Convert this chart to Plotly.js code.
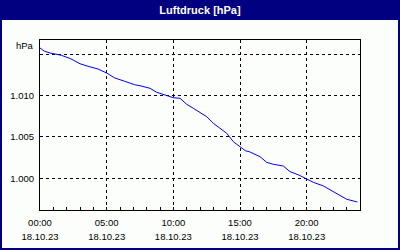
<!DOCTYPE html>
<html>
<head>
<meta charset="utf-8">
<script src="https://cdn.plot.ly/plotly-3.0.1.min.js"></script>
<style>html,body{margin:0;padding:0;background:#000080;}#chart{width:400px;height:250px;}</style>
</head>
<body>
<div id="chart"></div>
<script>
// Hours since 18.10.23 00:00
const hours = [0, 0.35, 0.75, 1.6, 2.3, 3.0, 3.6, 4.35, 5.0, 5.6, 6.35, 7.1, 7.5, 8.25, 8.75, 9.5, 10.0, 10.5, 11.0, 11.5, 12.0, 12.5, 13.0, 13.5, 14.0, 14.5, 15.0, 15.4, 15.7, 16.5, 17.0, 17.5, 18.25, 18.75, 19.4, 20.0, 20.5, 21.25, 22.0, 22.5, 23.0, 23.8];
// Air pressure in hPa
const pressure = [1015.76, 1015.36, 1015.16, 1014.88, 1014.47, 1013.86, 1013.55, 1013.22, 1012.74, 1012.14, 1011.74, 1011.32, 1011.20, 1010.89, 1010.41, 1009.99, 1009.75, 1009.68, 1008.95, 1008.47, 1007.94, 1007.46, 1006.66, 1006.05, 1005.45, 1004.43, 1003.83, 1003.34, 1003.22, 1002.62, 1001.94, 1001.70, 1001.49, 1000.81, 1000.41, 999.89, 999.52, 999.08, 998.39, 997.87, 997.47, 997.14];

const xTickVals = [0, 5, 10, 15, 20];
const xTimeLabels = ["00:00", "05:00", "10:00", "15:00", "20:00"];
const xDateLabels = ["18.10.23", "18.10.23", "18.10.23", "18.10.23", "18.10.23"];
const yTickVals = [1000, 1005, 1010, 1015];
const yTickLabels = ["1.000", "1.005", "1.010", ""];
const yUnit = "hPa";
const chartTitle = "Luftdruck [hPa]";

const FONT = "Liberation Sans, Arial, sans-serif";
const BG = "#fbfefb";
const LBL = 9.5;

const xTickText = xTimeLabels.map((t, i) =>
  '<span style="font-size:' + LBL + 'px">' + t + '</span><br><span style="font-size:' + LBL + 'px">' + xDateLabels[i] + '</span>');

const trace = {
  x: hours, y: pressure, type: "scatter", mode: "lines",
  line: {color: "#0000ff", width: 1},
  hoverinfo: "skip"
};

const layout = {
  width: 400, height: 250,
  margin: {l: 40, r: 40, t: 40, b: 40, pad: 0},
  paper_bgcolor: "#000080",
  plot_bgcolor: "rgba(0,0,0,0)",
  showlegend: false,
  title: {
    text: "<b>" + chartTitle + "</b>",
    font: {family: FONT, size: 11, color: "#ffffff"},
    x: 0.5, xref: "container", xanchor: "center",
    y: 1 - 10 / 250, yref: "container", yanchor: "middle"
  },
  shapes: [{
    type: "rect", xref: "paper", yref: "paper", layer: "below",
    x0: (2 - 40) / 320, x1: (398 - 40) / 320,
    y0: (210 - 248) / 170, y1: (210 - 20) / 170,
    fillcolor: BG, line: {width: 0}
  }],
  annotations: [{
    text: yUnit, xref: "paper", yref: "paper",
    x: 0, y: (210 - 45) / 170, xanchor: "right", yanchor: "middle", xshift: -4,
    showarrow: false, font: {family: FONT, size: LBL, color: "#000"}
  }],
  xaxis: {
    range: [0, 24], fixedrange: true,
    tickmode: "array", tickvals: xTickVals, ticktext: xTickText,
    tickfont: {family: FONT, size: 10.8, color: "#000"},
    ticks: "inside", ticklen: 3, tickcolor: "#000", tickwidth: 1,
    minor: {dtick: 1, tick0: 0, ticks: "inside", ticklen: 3, tickcolor: "#000", tickwidth: 1, showgrid: false},
    showgrid: true, gridcolor: "#000", gridwidth: 1, griddash: "3px,3px",
    showline: true, linecolor: "#000", linewidth: 1, mirror: true,
    zeroline: false, ticklabelstandoff: 2
  },
  yaxis: {
    range: [996.17, 1016.73], fixedrange: true,
    tickmode: "array", tickvals: yTickVals, ticktext: yTickLabels,
    tickfont: {family: FONT, size: LBL, color: "#000"},
    ticks: "", showgrid: true, gridcolor: "#000", gridwidth: 1, griddash: "3px,3px",
    showline: true, linecolor: "#000", linewidth: 1, mirror: true,
    zeroline: false, ticklabelstandoff: 3
  }
};

Plotly.newPlot("chart", [trace], layout, {staticPlot: true, displayModeBar: false});
</script>
</body>
</html>
